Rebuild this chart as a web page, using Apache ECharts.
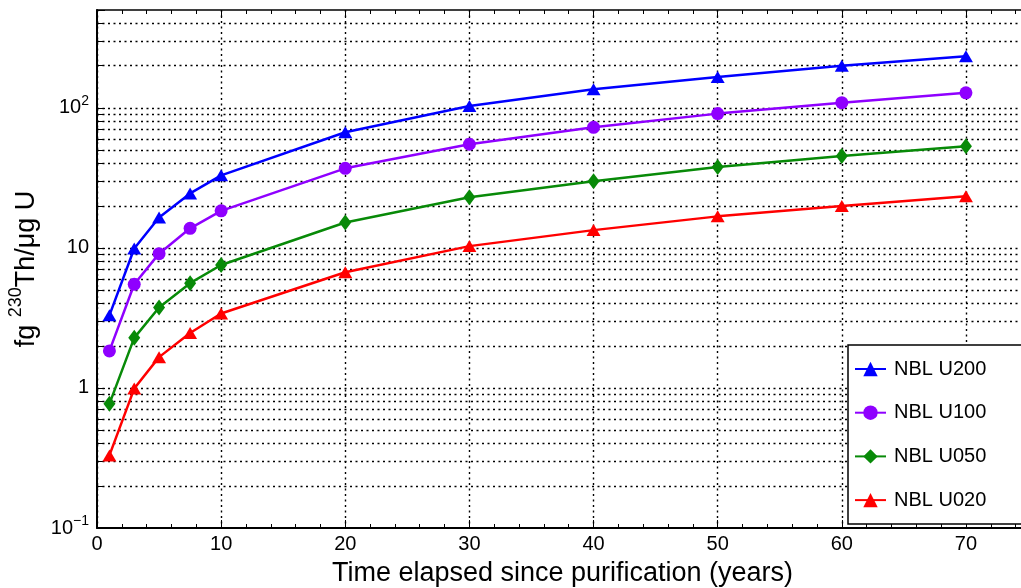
<!DOCTYPE html>
<html><head><meta charset="utf-8">
<script src="https://cdn.jsdelivr.net/npm/echarts@6/dist/echarts.min.js"></script>
<style>html,body{margin:0;padding:0;background:#fff}#c{width:1021px;height:588px}</style>
</head><body><div id="c"></div>
<script>
// ---- data ----
const years = [1, 3, 5, 7.5, 10, 20, 30, 40, 50, 60, 70];
const seriesNames = ['NBL U200', 'NBL U100', 'NBL U050', 'NBL U020'];
const u200 = [3.3, 9.9, 16.5, 24.5, 33, 67, 103, 136, 166, 200, 234];
const u100 = [1.84, 5.5, 9.1, 13.8, 18.4, 37, 55, 72.6, 91, 109, 128];
const u050 = [0.77, 2.28, 3.75, 5.6, 7.55, 15.2, 23, 29.9, 37.9, 45.4, 53.3];
const u020 = [0.33, 0.99, 1.66, 2.47, 3.4, 6.7, 10.3, 13.4, 16.8, 19.9, 23.4];
const yMajorTicks = [1, 10, 100];
const yMinorTicks = [0.2, 0.3, 0.4, 0.5, 0.6, 0.7, 0.8, 0.9,
                     2, 3, 4, 5, 6, 7, 8, 9,
                     20, 30, 40, 50, 60, 70, 80, 90,
                     200, 300, 400];
const xTitle = 'Time elapsed since purification (years)';

// ---- styles ----
const F = 'Liberation Sans, Arial, Helvetica, sans-serif';
const colors = ['#0000ff', '#8f00ff', '#088a08', '#ff0000'];
const symbols = ['triangle', 'circle', 'diamond', 'triangle'];
const symSizes = [[14, 12], 13, [12, 16], [14, 12]];
const values = [u200, u100, u050, u020];

const gridLineStyle = {color: '#000', width: 1.4, type: [2, 3.5]};

const dataSeries = seriesNames.map((n, i) => ({
  name: n, type: 'line', z: 3,
  data: years.map((x, k) => [x, values[i][k]]),
  symbol: symbols[i], symbolSize: symSizes[i],
  lineStyle: {color: colors[i], width: 2.5},
  itemStyle: {color: colors[i]},
  emphasis: {disabled: true}
}));

const gridSeries = {
  type: 'line', data: [], silent: true, z: 1,
  markLine: {
    silent: true, symbol: 'none', z: 1, animation: false,
    label: {show: false},
    lineStyle: gridLineStyle,
    data: yMajorTicks.concat(yMinorTicks).map(v => ({yAxis: v, lineStyle: gridLineStyle}))
  }
};
const minorTickSeries = {
  type: 'line', data: [], silent: true, z: 2,
  markLine: {
    silent: true, symbol: 'none', z: 2, animation: false,
    label: {show: false},
    lineStyle: {color: '#000', width: 1, type: 'solid'},
    data: yMinorTicks.map(v => [{coord: [0, v]}, {coord: [0.5, v]}])
  }
};

function yFmt(v) {
  const l = Math.log10(v), e = Math.round(l);
  if (Math.abs(l - e) > 1e-6) return '';
  if (e === -1) return '{b|10}{s|\u22121}';
  if (e === 0) return '{b|1}';
  if (e === 1) return '{b|10}';
  if (e === 2) return '{b|10}{s|2}';
  return '';
}

const chart = echarts.init(document.getElementById('c'));
chart.setOption({
  animation: false,
  backgroundColor: '#fff',
  textStyle: {fontFamily: F},
  grid: {left: 97, top: 10, width: 931, height: 518, containLabel: false, outerBoundsMode: 'none'},
  legend: {
    data: seriesNames, orient: 'vertical',
    left: 848, top: 345,
    padding: [14, 140, 14, 6],
    itemGap: 23.7, itemWidth: 31, itemHeight: 18,
    borderColor: '#000', borderWidth: 1.5, backgroundColor: '#fff',
    borderRadius: 0, z: 20,
    textStyle: {fontFamily: F, fontSize: 20, color: '#000', padding: [0, 0, 0, 3]}
  },
  xAxis: [{
    type: 'value', min: 0, max: 75, interval: 10, position: 'bottom',
    name: xTitle, nameLocation: 'middle', nameGap: 32,
    nameTextStyle: {fontFamily: F, fontSize: 27, color: '#000'},
    axisLine: {show: true, lineStyle: {color: '#000', width: 2}},
    axisTick: {show: true, inside: true, length: 8, lineStyle: {color: '#000', width: 1}},
    minorTick: {show: true, splitNumber: 5, length: 4, lineStyle: {color: '#000', width: 1}},
    axisLabel: {fontFamily: F, fontSize: 20, color: '#000', margin: 6, showMaxLabel: false},
    splitLine: {show: true, lineStyle: gridLineStyle},
    minorSplitLine: {show: false}
  }, {
    type: 'value', min: 0, max: 75, interval: 10, position: 'top',
    axisLine: {show: true, onZero: false, lineStyle: {color: '#000', width: 1.5}},
    axisTick: {show: true, inside: true, length: 8, lineStyle: {color: '#000', width: 1}},
    minorTick: {show: true, splitNumber: 5, length: 4, lineStyle: {color: '#000', width: 1}},
    axisLabel: {show: false},
    splitLine: {show: false}
  }],
  yAxis: {
    type: 'log', logBase: 10, min: 0.1, max: 500,
    name: '{n|fg }{s|230}{n|Th/\u03bcg U}', nameLocation: 'middle', nameGap: 50,
    nameTextStyle: {
      fontFamily: F, fontSize: 27, color: '#000',
      rich: {
        n: {fontFamily: F, fontSize: 27, color: '#000'},
        s: {fontFamily: F, fontSize: 18, color: '#000', padding: [0, 0, 20, 0]}
      }
    },
    axisLine: {show: true, onZero: false, lineStyle: {color: '#000', width: 2}},
    axisTick: {show: true, inside: true, length: 8, lineStyle: {color: '#000', width: 1}},
    axisLabel: {
      fontFamily: F, fontSize: 20, color: '#000', margin: 8,
      formatter: yFmt,
      rich: {
        b: {fontFamily: F, fontSize: 20, color: '#000'},
        s: {fontFamily: F, fontSize: 14, color: '#000', padding: [0, 0, 14, 0]}
      }
    },
    splitLine: {show: false}
  },
  series: [gridSeries, minorTickSeries].concat(dataSeries)
});
</script>
</body></html>
